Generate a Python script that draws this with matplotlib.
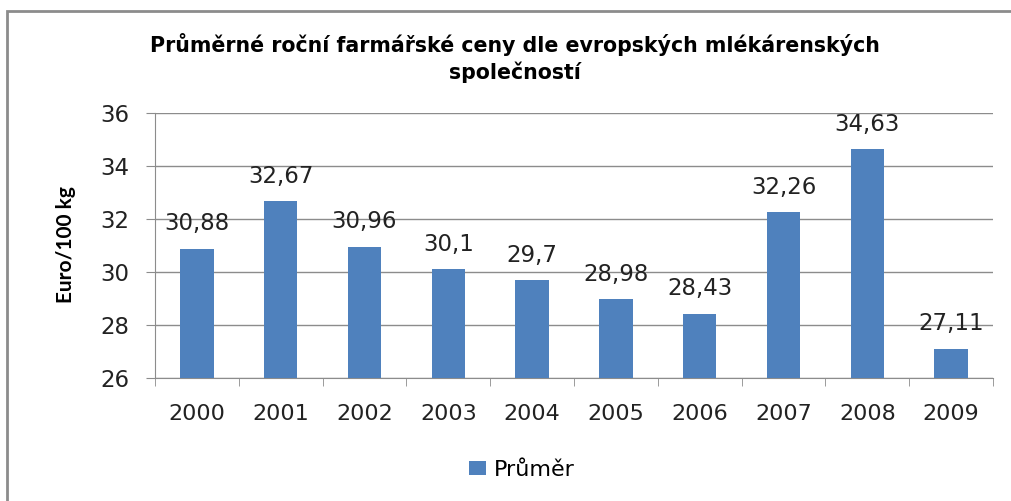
import matplotlib.pyplot as plt
from matplotlib.patches import Rectangle

years = ['2000', '2001', '2002', '2003', '2004', '2005', '2006', '2007', '2008', '2009']
prumer = [30.88, 32.67, 30.96, 30.1, 29.7, 28.98, 28.43, 32.26, 34.63, 27.11]
labels = ['30,88', '32,67', '30,96', '30,1', '29,7', '28,98', '28,43', '32,26', '34,63', '27,11']

W, H = 1011, 501
fig = plt.figure(figsize=(W / 100, H / 100), dpi=100)
ax = fig.add_axes([155 / W, 1 - 378 / H, (993 - 155) / W, (378 - 113) / H])

# rámeček grafu
fig.patches.append(Rectangle((7 / W, -0.1), 1.2, (H - 11) / H + 0.1, transform=fig.transFigure,
                             fill=False, edgecolor='#8c8c8c', lw=2))

x = range(len(years))
bars = ax.bar(x, [v - 26 for v in prumer], bottom=26, width=0.4, color='#4f81bd', label='Průměr', zorder=3)
for xi, v, t in zip(x, prumer, labels):
    ax.text(xi, v + 0.5, t, ha='center', va='bottom', fontsize=16.5, color='#222222')

ax.set_xlim(-0.5, 9.5)
ax.set_ylim(26, 36)
ax.set_yticks(range(26, 37, 2))
ax.set_xticks(x)
ax.set_xticklabels(years)
ax.set_xticks([i + 0.5 for i in range(-1, 10)], minor=True)
ax.tick_params(axis='x', which='major', length=0, pad=19, labelsize=16, labelcolor='#222222')
ax.tick_params(axis='x', which='minor', length=6, color='#8c8c8c')
ax.tick_params(axis='y', length=6.5, color='#8c8c8c', labelsize=16.5, labelcolor='#222222', pad=12)
ax.grid(axis='y', color='#8c8c8c', lw=1, zorder=0)
for s in ['top', 'right']:
    ax.spines[s].set_visible(False)
for s in ['left', 'bottom']:
    ax.spines[s].set_color('#8c8c8c')

fig.text(66 / W, 1 - 245 / H, 'Euro/100 kg', rotation=90, ha='center', va='center',
         fontsize=15, fontweight='bold', family='Lato')
fig.text(515 / W, 1 - 58 / H, 'Průměrné roční farmářské ceny dle evropských mlékárenských\nspolečností',
         ha='center', va='center', fontsize=14.8, fontweight='bold', linespacing=1.3)

fig.legend(handles=[bars], loc='center', bbox_to_anchor=(522 / W, 1 - 470 / H), frameon=False,
           fontsize=16, handlelength=0.75, handleheight=0.6, handletextpad=0.35)

fig.savefig('out.png', dpi=100, facecolor='white')
